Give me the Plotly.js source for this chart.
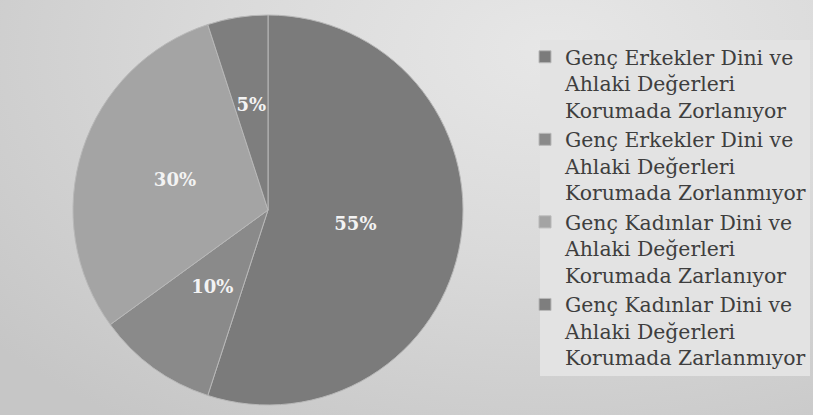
<!DOCTYPE html>
<html>
<head>
<meta charset="utf-8">
<script src="https://cdn.plot.ly/plotly-3.0.1.min.js"></script>
<style>
html,body{margin:0;padding:0;}
body{width:813px;height:415px;background:radial-gradient(ellipse 90% 110% at 68% 12%,#e7e7e7 0%,#dadada 45%,#c6c6c6 100%);}
#chart{width:813px;height:415px;}
</style>
</head>
<body>
<div id="chart"></div>
<script>
const categories = [
  "Genç Erkekler Dini ve<br>Ahlaki Değerleri<br>Korumada Zorlanıyor",
  "Genç Erkekler Dini ve<br>Ahlaki Değerleri<br>Korumada Zorlanmıyor",
  "Genç Kadınlar Dini ve<br>Ahlaki Değerleri<br>Korumada Zarlanıyor",
  "Genç Kadınlar Dini ve<br>Ahlaki Değerleri<br>Korumada Zarlanmıyor"
];
const values = [55, 10, 30, 5];
const colors = ["#7b7b7b", "#8a8a8a", "#a4a4a4", "#7e7e7e"];

const W = 813, H = 415;
const cx = 268, cy = 210;
function dom(r) {
  return {x: [(cx - r) / W, (cx + r) / W], y: [(H - cy - r) / H, (H - cy + r) / H]};
}
const labelFont = {family: "DejaVu Serif", size: 18, color: "#f3f3f3"};
const clear = values.map(() => "rgba(0,0,0,0)");

const data = [
  {
    type: "pie",
    labels: categories,
    values: values,
    sort: false,
    direction: "clockwise",
    rotation: 0,
    marker: {colors: colors, line: {color: "#b8b8b8", width: 1}},
    textinfo: "none",
    domain: dom(195),
    hoverinfo: "label+percent"
  },
  {
    type: "pie",
    labels: categories,
    values: values,
    sort: false,
    direction: "clockwise",
    rotation: 0,
    showlegend: false,
    marker: {colors: clear, line: {width: 0}},
    textposition: ["inside", "none", "inside", "none"],
    insidetextorientation: "horizontal",
    texttemplate: "<b>%{percent:.0%}</b>",
    textfont: labelFont,
    domain: dom(177),
    hoverinfo: "skip"
  },
  {
    type: "pie",
    labels: categories,
    values: values,
    sort: false,
    direction: "clockwise",
    rotation: 0,
    showlegend: false,
    marker: {colors: clear, line: {width: 0}},
    textposition: ["none", "inside", "none", "inside"],
    insidetextorientation: "horizontal",
    texttemplate: "<b>%{percent:.0%}</b>",
    textfont: labelFont,
    domain: dom(124),
    hoverinfo: "skip"
  }
];

const layout = {
  width: W,
  height: H,
  margin: {l: 0, r: 0, t: 0, b: 0},
  paper_bgcolor: "rgba(0,0,0,0)",
  plot_bgcolor: "rgba(0,0,0,0)",
  showlegend: true,
  uniformtext: {mode: "show", minsize: 18},
  legend: {
    x: 525 / W, y: 1 - 37 / H,
    xanchor: "left", yanchor: "top",
    bgcolor: "rgba(0,0,0,0)",
    font: {family: "DejaVu Serif", size: 20.4, color: "#3e3e3e"},
    valign: "top",
    itemwidth: 30
  },
  shapes: [{
    type: "rect", xref: "paper", yref: "paper", layer: "below",
    x0: 540 / W, x1: 810 / W, y0: 1 - 376 / H, y1: 1 - 40 / H,
    fillcolor: "#e3e3e3", line: {width: 0}
  }]
};

Plotly.newPlot("chart", data, layout, {displayModeBar: false, staticPlot: true});
</script>
</body>
</html>
